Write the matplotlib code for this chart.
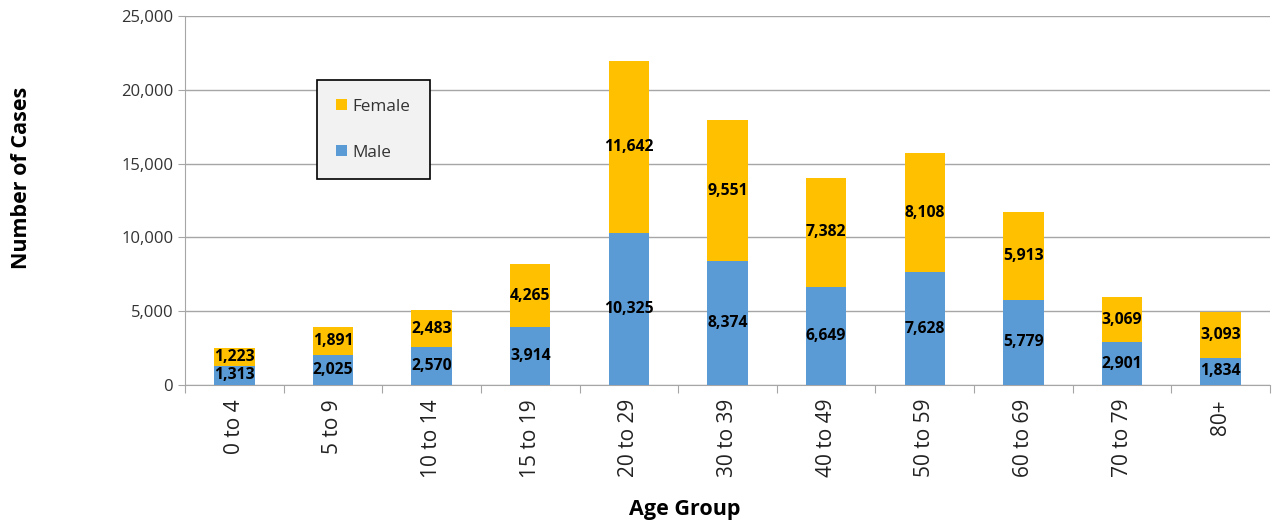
import matplotlib.pyplot as plt
import numpy as np
from matplotlib.ticker import FuncFormatter, FixedLocator

# 数据
age_groups = ['0 to 4', '5 to 9', '10 to 14', '15 to 19', '20 to 29', '30 to 39',
              '40 to 49', '50 to 59', '60 to 69', '70 to 79', '80+']
male = [1313, 2025, 2570, 3914, 10325, 8374, 6649, 7628, 5779, 2901, 1834]
female = [1223, 1891, 2483, 4265, 11642, 9551, 7382, 8108, 5913, 3069, 3093]

plt.rcParams['font.family'] = ['Open Sans', 'DejaVu Sans']

fig = plt.figure(figsize=(12.75, 5.27), dpi=100)
ax = fig.add_axes([185 / 1275, 1 - 385 / 527, (1270 - 185) / 1275, (385 - 16) / 527])

x = np.arange(len(age_groups))
b1 = ax.bar(x, male, width=0.41, color='#5B9BD5', label='Male', zorder=3)
b2 = ax.bar(x, female, width=0.41, bottom=male, color='#FFC000', label='Female', zorder=3)

fmt = lambda v: f'{v:,.0f}'
ax.bar_label(b1, labels=[fmt(v) for v in male], label_type='center',
             fontsize=11.3, fontweight='bold', color='black')
ax.bar_label(b2, labels=[fmt(v) for v in female], label_type='center',
             fontsize=11.3, fontweight='bold', color='black')

ax.set_xlim(-0.5, len(age_groups) - 0.5)
ax.set_ylim(0, 25000)
ax.set_yticks(np.arange(0, 25001, 5000))
ax.yaxis.set_major_formatter(FuncFormatter(lambda v, p: f'{v:,.0f}'))
ax.grid(axis='y', color='#A6A6A6', linewidth=1, zorder=0)

# 类别边界刻度，标签放在中间
ax.xaxis.set_major_locator(FixedLocator(np.arange(-0.5, len(age_groups), 1)))
ax.xaxis.set_major_formatter(FuncFormatter(lambda v, p: ''))
ax.xaxis.set_minor_locator(FixedLocator(x))
ax.set_xticklabels(age_groups, minor=True, rotation=90, fontsize=15, color='#222222')
ax.tick_params(axis='x', which='major', length=6, color='#A6A6A6')
ax.tick_params(axis='x', which='minor', length=0, pad=10)
ax.tick_params(axis='y', length=5, color='#A6A6A6', labelsize=12, labelcolor='#333333')

for s in ['top', 'right']:
    ax.spines[s].set_visible(False)
for s in ['left', 'bottom']:
    ax.spines[s].set_color('#A6A6A6')

fig.text(22 / 1275, 1 - 178 / 527, 'Number of Cases', rotation=90, ha='center', va='center',
         fontsize=15.5, fontweight='bold')
fig.text(685 / 1275, 1 - 510 / 527, 'Age Group', ha='center', va='center',
         fontsize=15.5, fontweight='bold')

leg = ax.legend(handles=[b2, b1], loc='upper left',
                bbox_to_anchor=(317 / 1275, 1 - 80 / 527), bbox_transform=fig.transFigure,
                frameon=True, fancybox=False, framealpha=1, fontsize=12.3,
                labelspacing=1.75, handlelength=0.65, handleheight=0.65, handletextpad=0.35,
                borderpad=1.1, borderaxespad=0, labelcolor='#333333')
leg.get_frame().set_edgecolor('black')
leg.get_frame().set_facecolor('#F2F2F2')
leg.get_frame().set_linewidth(1.2)

fig.savefig('out.png', dpi=100)
